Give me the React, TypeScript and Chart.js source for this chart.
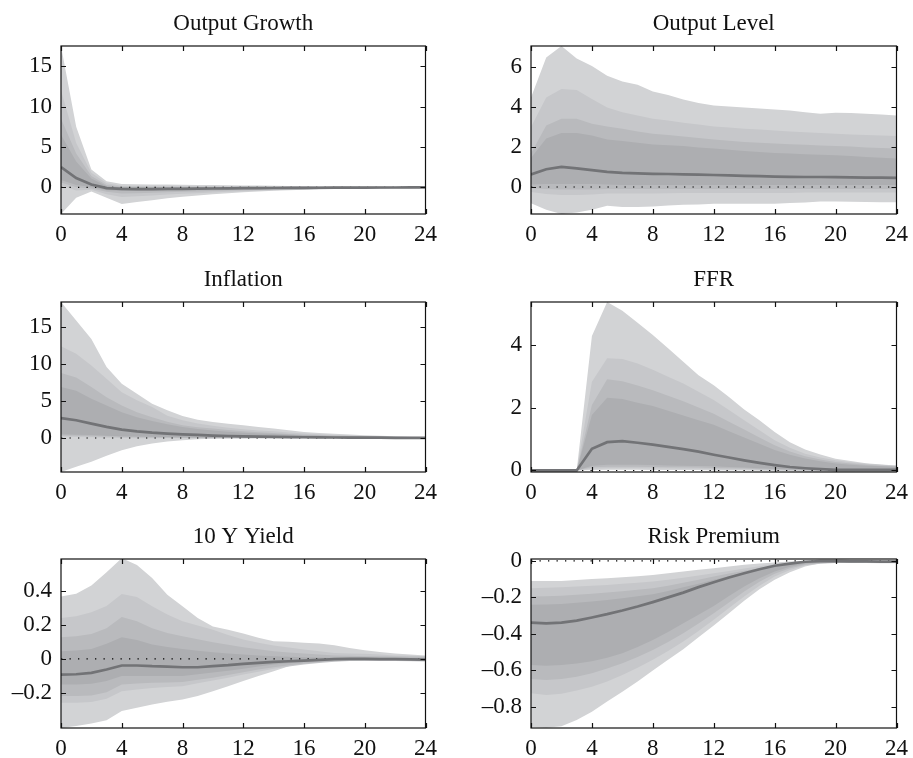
import React, { useEffect, useRef } from "react";
import { Chart, registerables } from "chart.js";

Chart.register(...registerables);

// ---------- DATA ----------
const HORIZON = [0, 1, 2, 3, 4, 5, 6, 7, 8, 9, 10, 11, 12, 13, 14, 15, 16, 17, 18, 19, 20, 21, 22, 23, 24];
const X_TICKS = [0, 4, 8, 12, 16, 20, 24];

// Output Growth
const OG_MEDIAN = [2.5, 1.15, 0.35, -0.1, -0.2, -0.22, -0.22, -0.2, -0.18, -0.16, -0.14, -0.12, -0.1, -0.09, -0.08, -0.07, -0.06, -0.05, -0.04, -0.03, -0.03, -0.02, -0.02, -0.01, -0.01];
const OG_U1 = [6.5, 3.2, 1.1, 0.15, -0.02, -0.05, -0.05, -0.05, -0.04, -0.04, -0.03, -0.03, -0.03, -0.02, -0.02, -0.02, -0.01, -0.01, -0.01, 0, 0, 0, 0, 0, 0];
const OG_U2 = [8.5, 4.2, 1.4, 0.3, 0.08, 0.06, 0.05, 0.05, 0.05, 0.05, 0.05, 0.04, 0.04, 0.04, 0.03, 0.03, 0.03, 0.03, 0.02, 0.02, 0.02, 0.02, 0.02, 0.01, 0.01];
const OG_U3 = [12, 5.5, 1.8, 0.5, 0.2, 0.2, 0.2, 0.19, 0.18, 0.17, 0.16, 0.15, 0.14, 0.12, 0.11, 0.1, 0.09, 0.08, 0.07, 0.06, 0.05, 0.05, 0.04, 0.04, 0.03];
const OG_U4 = [17.5, 7.5, 2.2, 0.75, 0.4, 0.38, 0.36, 0.34, 0.32, 0.3, 0.28, 0.26, 0.24, 0.22, 0.2, 0.18, 0.16, 0.14, 0.12, 0.11, 0.1, 0.09, 0.08, 0.07, 0.06];
const OG_L1 = [0.9, 0.3, 0.05, -0.35, -0.45, -0.45, -0.43, -0.4, -0.37, -0.34, -0.3, -0.27, -0.24, -0.21, -0.18, -0.16, -0.14, -0.12, -0.1, -0.09, -0.08, -0.07, -0.06, -0.05, -0.04];
const OG_L2 = [0.6, 0, -0.15, -0.55, -0.75, -0.72, -0.68, -0.62, -0.56, -0.5, -0.45, -0.4, -0.35, -0.3, -0.26, -0.23, -0.2, -0.17, -0.15, -0.13, -0.11, -0.1, -0.09, -0.08, -0.07];
const OG_L3 = [0.3, -0.4, -0.3, -0.85, -1.2, -1.1, -1.0, -0.9, -0.8, -0.72, -0.64, -0.56, -0.49, -0.42, -0.36, -0.31, -0.27, -0.23, -0.2, -0.17, -0.15, -0.13, -0.12, -0.1, -0.09];
const OG_L4 = [-3.3, -1.3, -0.5, -1.3, -2.05, -1.8, -1.6, -1.35, -1.15, -1.0, -0.85, -0.72, -0.6, -0.5, -0.42, -0.35, -0.29, -0.24, -0.2, -0.17, -0.15, -0.13, -0.11, -0.1, -0.09];

// Output Level
const OL_MEDIAN = [0.63, 0.89, 1.01, 0.93, 0.84, 0.76, 0.71, 0.68, 0.66, 0.65, 0.63, 0.62, 0.6, 0.58, 0.56, 0.54, 0.52, 0.51, 0.5, 0.5, 0.49, 0.48, 0.47, 0.47, 0.46];
const OL_U1 = [1.45, 2.42, 2.7, 2.7, 2.58, 2.37, 2.3, 2.21, 2.13, 2.09, 2.05, 1.98, 1.92, 1.86, 1.8, 1.75, 1.7, 1.67, 1.64, 1.61, 1.59, 1.55, 1.5, 1.46, 1.42];
const OL_U2 = [1.67, 3.08, 3.41, 3.41, 3.16, 3.03, 2.91, 2.78, 2.66, 2.6, 2.53, 2.45, 2.37, 2.31, 2.25, 2.21, 2.17, 2.14, 2.11, 2.08, 2.05, 2.02, 1.98, 1.95, 1.92];
const OL_U3 = [3.0, 4.48, 4.9, 4.85, 4.4, 3.98, 3.74, 3.57, 3.41, 3.33, 3.21, 3.12, 3.03, 2.97, 2.91, 2.87, 2.83, 2.78, 2.74, 2.7, 2.66, 2.63, 2.6, 2.57, 2.55];
const OL_U4 = [4.48, 6.47, 7.05, 6.43, 6.05, 5.56, 5.28, 5.11, 4.78, 4.6, 4.37, 4.2, 4.07, 4.02, 3.97, 3.92, 3.87, 3.82, 3.74, 3.66, 3.71, 3.7, 3.66, 3.62, 3.57];
const OL_L1 = [0.12, 0.15, 0.15, 0.15, 0.15, 0.12, 0.1, 0.1, 0.1, 0.1, 0.1, 0.1, 0.1, 0.1, 0.1, 0.1, 0.1, 0.1, 0.1, 0.1, 0.1, 0.1, 0.1, 0.1, 0.1];
const OL_L2 = [-0.05, -0.1, -0.12, -0.12, -0.12, -0.1, -0.1, -0.1, -0.1, -0.1, -0.1, -0.1, -0.1, -0.1, -0.1, -0.1, -0.1, -0.1, -0.1, -0.1, -0.1, -0.1, -0.1, -0.1, -0.1];
const OL_L3 = [-0.25, -0.35, -0.4, -0.4, -0.38, -0.33, -0.33, -0.33, -0.32, -0.31, -0.3, -0.3, -0.3, -0.3, -0.3, -0.3, -0.3, -0.3, -0.28, -0.27, -0.27, -0.27, -0.27, -0.27, -0.27];
const OL_L4 = [-0.81, -1.14, -1.35, -1.28, -1.14, -0.94, -1.0, -1.0, -0.97, -0.93, -0.89, -0.87, -0.84, -0.84, -0.84, -0.84, -0.84, -0.8, -0.77, -0.73, -0.73, -0.74, -0.75, -0.76, -0.76];

// Inflation
const IN_MEDIAN = [2.7, 2.4, 1.94, 1.5, 1.13, 0.9, 0.72, 0.59, 0.5, 0.41, 0.32, 0.27, 0.23, 0.19, 0.16, 0.13, 0.1, 0.08, 0.07, 0.06, 0.05, 0.04, 0.03, 0.03, 0.02];
const IN_U1 = [6.9, 6.4, 5.3, 4.4, 3.5, 2.8, 2.3, 1.85, 1.5, 1.22, 1.0, 0.85, 0.72, 0.62, 0.53, 0.44, 0.36, 0.3, 0.25, 0.21, 0.18, 0.15, 0.12, 0.1, 0.09];
const IN_U2 = [8.8, 8.2, 6.9, 5.5, 4.4, 3.5, 2.8, 2.2, 1.72, 1.45, 1.27, 1.08, 0.9, 0.78, 0.66, 0.55, 0.45, 0.38, 0.32, 0.27, 0.23, 0.18, 0.14, 0.11, 0.09];
const IN_U3 = [12.4, 11.4, 9.8, 8.0, 6.2, 5.1, 4.2, 3.0, 2.39, 1.95, 1.65, 1.4, 1.2, 1.03, 0.9, 0.75, 0.6, 0.5, 0.42, 0.33, 0.25, 0.2, 0.16, 0.13, 0.1];
const IN_U4 = [18.4, 15.9, 13.4, 9.6, 7.35, 6.0, 4.65, 3.74, 2.98, 2.48, 2.17, 1.94, 1.72, 1.49, 1.27, 1.04, 0.81, 0.68, 0.59, 0.48, 0.36, 0.3, 0.23, 0.18, 0.14];
const IN_L1 = [0.5, 0.45, 0.4, 0.32, 0.25, 0.2, 0.16, 0.13, 0.1, 0.08, 0.06, 0.05, 0.04, 0.03, 0.02, 0.02, 0.01, 0.01, 0.01, 0, 0, 0, 0, 0, 0];
const IN_L2 = [0.35, 0.3, 0.25, 0.2, 0.15, 0.1, 0.07, 0.05, 0.03, 0.02, 0.01, 0, 0, 0, 0, 0, 0, 0, 0, 0, 0, 0, 0, 0, 0];
const IN_L3 = [0.2, 0.15, 0.1, 0.05, 0, -0.03, -0.05, -0.05, -0.05, -0.04, -0.03, -0.03, -0.02, -0.02, -0.01, -0.01, -0.01, -0.01, -0.01, -0.01, -0.01, -0.01, -0.01, -0.01, -0.01];
const IN_L4 = [-4.6, -3.9, -3.2, -2.4, -1.66, -1.12, -0.76, -0.49, -0.31, -0.18, -0.1, -0.08, -0.06, -0.05, -0.04, -0.03, -0.03, -0.02, -0.02, -0.02, -0.01, -0.01, -0.01, -0.01, -0.01];

// FFR
const FF_MEDIAN = [0, 0, 0, 0, 0.69, 0.9, 0.93, 0.88, 0.82, 0.75, 0.68, 0.6, 0.5, 0.41, 0.32, 0.24, 0.17, 0.11, 0.07, 0.04, 0.02, 0.02, 0.02, 0.02, 0.02];
const FF_U1 = [0, 0, 0, 0, 1.76, 2.31, 2.27, 2.15, 2.05, 1.9, 1.75, 1.6, 1.45, 1.25, 1.05, 0.85, 0.65, 0.5, 0.38, 0.29, 0.22, 0.18, 0.15, 0.13, 0.11];
const FF_U2 = [0, 0, 0, 0, 2.08, 2.9, 2.84, 2.7, 2.55, 2.38, 2.2, 2.0, 1.8, 1.55, 1.3, 1.05, 0.8, 0.6, 0.45, 0.35, 0.27, 0.22, 0.18, 0.15, 0.13];
const FF_U3 = [0, 0, 0, 0, 2.82, 3.57, 3.55, 3.4, 3.2, 2.98, 2.77, 2.5, 2.24, 1.92, 1.6, 1.28, 0.96, 0.72, 0.53, 0.41, 0.32, 0.26, 0.21, 0.18, 0.15];
const FF_U4 = [0, 0, 0, 0, 4.28, 5.36, 5.08, 4.7, 4.31, 3.89, 3.46, 3.03, 2.71, 2.34, 1.94, 1.6, 1.22, 0.9, 0.67, 0.51, 0.37, 0.3, 0.23, 0.19, 0.16];
const FF_L1 = [0, 0, 0, 0, 0.15, 0.18, 0.18, 0.18, 0.17, 0.16, 0.15, 0.14, 0.13, 0.11, 0.09, 0.07, 0.05, 0.03, 0.02, 0.01, 0, 0, 0, 0, 0];
const FF_L2 = [0, 0, 0, 0, 0.1, 0.12, 0.12, 0.12, 0.11, 0.1, 0.1, 0.09, 0.08, 0.07, 0.06, 0.04, 0.03, 0.02, 0.01, 0, -0.01, -0.01, -0.01, -0.01, -0.01];
const FF_L3 = [0, 0, 0, 0, 0.05, 0.07, 0.07, 0.07, 0.06, 0.06, 0.05, 0.05, 0.04, 0.03, 0.03, 0.02, 0.01, 0, -0.01, -0.02, -0.02, -0.02, -0.02, -0.02, -0.02];
const FF_L4 = [0, 0, 0, 0, 0.01, 0.02, 0.02, 0.02, 0.01, 0.01, 0.01, 0.01, 0, 0, 0, -0.01, -0.02, -0.03, -0.04, -0.04, -0.05, -0.05, -0.04, -0.04, -0.04];

// 10 Y Yield
const TY_MEDIAN = [-0.092, -0.09, -0.082, -0.062, -0.039, -0.039, -0.043, -0.045, -0.049, -0.049, -0.043, -0.037, -0.029, -0.024, -0.018, -0.014, -0.01, -0.006, -0.002, 0, 0, -0.001, -0.002, -0.003, -0.004];
const TY_U1 = [0.045, 0.049, 0.058, 0.088, 0.127, 0.11, 0.084, 0.07, 0.058, 0.048, 0.039, 0.032, 0.025, 0.02, 0.016, 0.013, 0.01, 0.008, 0.007, 0.006, 0.006, 0.005, 0.005, 0.004, 0.004];
const TY_U2 = [0.127, 0.133, 0.146, 0.18, 0.245, 0.22, 0.18, 0.152, 0.133, 0.115, 0.097, 0.082, 0.068, 0.056, 0.045, 0.038, 0.031, 0.025, 0.02, 0.018, 0.016, 0.015, 0.014, 0.013, 0.012];
const TY_U3 = [0.24, 0.25, 0.273, 0.31, 0.38, 0.363, 0.308, 0.26, 0.22, 0.195, 0.17, 0.14, 0.113, 0.095, 0.078, 0.066, 0.055, 0.045, 0.035, 0.032, 0.03, 0.025, 0.02, 0.018, 0.016];
const TY_U4 = [0.366, 0.382, 0.43, 0.507, 0.59, 0.55, 0.474, 0.376, 0.308, 0.24, 0.19, 0.17, 0.148, 0.123, 0.103, 0.1, 0.094, 0.09, 0.08, 0.064, 0.05, 0.04, 0.031, 0.025, 0.02];
const TY_L1 = [-0.15, -0.15, -0.146, -0.13, -0.1, -0.1, -0.1, -0.1, -0.1, -0.09, -0.08, -0.069, -0.058, -0.045, -0.033, -0.025, -0.018, -0.012, -0.008, -0.007, -0.006, -0.006, -0.007, -0.007, -0.008];
const TY_L2 = [-0.218, -0.218, -0.214, -0.195, -0.15, -0.145, -0.14, -0.138, -0.136, -0.123, -0.11, -0.094, -0.078, -0.063, -0.049, -0.037, -0.027, -0.02, -0.014, -0.011, -0.01, -0.01, -0.01, -0.011, -0.012];
const TY_L3 = [-0.257, -0.257, -0.252, -0.234, -0.19, -0.18, -0.17, -0.165, -0.16, -0.143, -0.127, -0.11, -0.092, -0.075, -0.058, -0.045, -0.033, -0.024, -0.017, -0.013, -0.012, -0.012, -0.012, -0.013, -0.014];
const TY_L4 = [-0.405, -0.394, -0.378, -0.359, -0.306, -0.287, -0.267, -0.251, -0.238, -0.218, -0.19, -0.16, -0.13, -0.1, -0.072, -0.043, -0.023, -0.014, -0.008, -0.004, -0.004, -0.008, -0.012, -0.014, -0.016];

// Risk Premium
const RP_MEDIAN = [-0.338, -0.342, -0.338, -0.327, -0.31, -0.292, -0.272, -0.25, -0.226, -0.2, -0.174, -0.144, -0.117, -0.091, -0.068, -0.046, -0.027, -0.015, -0.005, -0.002, -0.002, -0.003, -0.003, -0.004, -0.004];
const RP_U1 = [-0.24, -0.239, -0.236, -0.23, -0.223, -0.214, -0.205, -0.194, -0.183, -0.165, -0.145, -0.125, -0.104, -0.085, -0.066, -0.048, -0.031, -0.019, -0.011, -0.008, -0.007, -0.006, -0.006, -0.006, -0.006];
const RP_U2 = [-0.195, -0.194, -0.191, -0.186, -0.18, -0.173, -0.166, -0.158, -0.15, -0.136, -0.12, -0.103, -0.086, -0.07, -0.054, -0.04, -0.026, -0.016, -0.009, -0.006, -0.005, -0.004, -0.004, -0.004, -0.004];
const RP_U3 = [-0.15, -0.148, -0.145, -0.141, -0.137, -0.132, -0.126, -0.12, -0.113, -0.103, -0.092, -0.08, -0.068, -0.055, -0.042, -0.03, -0.018, -0.01, -0.005, -0.003, -0.002, -0.002, -0.002, -0.002, -0.002];
const RP_U4 = [-0.11, -0.11, -0.11, -0.105, -0.1, -0.095, -0.09, -0.084, -0.077, -0.068, -0.058, -0.049, -0.04, -0.031, -0.022, -0.015, -0.009, -0.004, 0, 0.002, 0.002, 0.002, 0.002, 0.002, 0.002];
const RP_L1 = [-0.57, -0.574, -0.57, -0.562, -0.55, -0.53, -0.506, -0.472, -0.433, -0.39, -0.342, -0.295, -0.247, -0.193, -0.14, -0.095, -0.058, -0.033, -0.016, -0.01, -0.008, -0.008, -0.007, -0.007, -0.007];
const RP_L2 = [-0.647, -0.652, -0.647, -0.634, -0.616, -0.59, -0.56, -0.526, -0.488, -0.444, -0.396, -0.343, -0.287, -0.228, -0.168, -0.115, -0.071, -0.04, -0.022, -0.013, -0.01, -0.009, -0.009, -0.009, -0.009];
const RP_L3 = [-0.725, -0.734, -0.727, -0.71, -0.689, -0.66, -0.625, -0.585, -0.542, -0.494, -0.442, -0.384, -0.323, -0.258, -0.195, -0.136, -0.086, -0.05, -0.026, -0.016, -0.012, -0.011, -0.011, -0.011, -0.011];
const RP_L4 = [-0.908, -0.913, -0.905, -0.871, -0.826, -0.77, -0.716, -0.661, -0.6, -0.542, -0.484, -0.418, -0.354, -0.287, -0.219, -0.155, -0.104, -0.062, -0.031, -0.013, -0.008, -0.01, -0.012, -0.013, -0.013];

const TITLES = ["Output Growth", "Output Level", "Inflation", "FFR", "10 Y Yield", "Risk Premium"];
const Y_TICKS = [
  [0, 5, 10, 15],
  [0, 2, 4, 6],
  [0, 5, 10, 15],
  [0, 2, 4],
  [-0.2, 0, 0.2, 0.4],
  [-0.8, -0.6, -0.4, -0.2, 0],
];
const Y_RANGES = [
  [-3.3, 17.5],
  [-1.35, 7.05],
  [-4.6, 18.4],
  [-0.05, 5.36],
  [-0.405, 0.585],
  [-0.915, 0.01],
];

const SERIES = [
  { median: OG_MEDIAN, upper: [OG_U1, OG_U2, OG_U3, OG_U4], lower: [OG_L1, OG_L2, OG_L3, OG_L4] },
  { median: OL_MEDIAN, upper: [OL_U1, OL_U2, OL_U3, OL_U4], lower: [OL_L1, OL_L2, OL_L3, OL_L4] },
  { median: IN_MEDIAN, upper: [IN_U1, IN_U2, IN_U3, IN_U4], lower: [IN_L1, IN_L2, IN_L3, IN_L4] },
  { median: FF_MEDIAN, upper: [FF_U1, FF_U2, FF_U3, FF_U4], lower: [FF_L1, FF_L2, FF_L3, FF_L4] },
  { median: TY_MEDIAN, upper: [TY_U1, TY_U2, TY_U3, TY_U4], lower: [TY_L1, TY_L2, TY_L3, TY_L4] },
  { median: RP_MEDIAN, upper: [RP_U1, RP_U2, RP_U3, RP_U4], lower: [RP_L1, RP_L2, RP_L3, RP_L4] },
];

// ---------- STYLE / LAYOUT ----------
const BAND_COLORS = ["#adaeb1", "#b9babd", "#c6c7ca", "#d2d3d5"]; // inner -> outer
const MEDIAN_COLOR = "#727376";
const FONT_FAMILY = '"Liberation Serif", "Times New Roman", Times, serif';
const FONT_SIZE = 23;
// plot rectangles: [left, top, right, bottom]
const PLOT_RECTS = [
  [61, 46, 428, 214],
  [531, 46, 899, 214],
  [61, 302, 428, 472],
  [531, 302, 899, 472],
  [61, 559, 428, 728],
  [531, 559, 899, 728],
];
const PAD_LEFT = 61;
const PAD_TOP = 46;
const PAD_RIGHT = 16;
const PAD_BOTTOM = 32;

function fmtTick(v: number): string {
  if (Math.abs(v) < 1e-9) return "0";
  const s = String(parseFloat(Math.abs(v).toFixed(3)));
  return v < 0 ? "\u2013" + s : s;
}

const framePlugin = {
  id: "matlabFrame",
  afterDraw(chart: any, _args: any, opts: any) {
    const { ctx, chartArea } = chart;
    const { left, top, right, bottom } = chartArea;
    const xs = chart.scales.x;
    const ys = chart.scales.y;
    ctx.save();
    ctx.strokeStyle = "#111";
    ctx.lineWidth = 1.2;
    ctx.strokeRect(left, top, right - left, bottom - top);
    const tl = 5;
    ctx.beginPath();
    for (const v of X_TICKS) {
      const px = Math.round(xs.getPixelForValue(v)) + 0.5;
      ctx.moveTo(px, bottom);
      ctx.lineTo(px, bottom - tl);
      ctx.moveTo(px, top);
      ctx.lineTo(px, top + tl);
    }
    for (const v of opts.yTicks as number[]) {
      const py = Math.round(ys.getPixelForValue(v)) + 0.5;
      if (py < top - 1 || py > bottom + 1) continue;
      ctx.moveTo(left, py);
      ctx.lineTo(left + tl, py);
      ctx.moveTo(right, py);
      ctx.lineTo(right - tl, py);
    }
    ctx.stroke();
    // title
    ctx.fillStyle = "#111";
    ctx.font = `${FONT_SIZE}px ${FONT_FAMILY}`;
    ctx.textAlign = "center";
    ctx.textBaseline = "alphabetic";
    ctx.fillText(opts.title, (left + right) / 2, top - 16);
    ctx.restore();
  },
};

function Panel({ idx }: { idx: number }) {
  const ref = useRef<HTMLCanvasElement | null>(null);
  const [l, t, r, b] = PLOT_RECTS[idx];
  const width = r - l + PAD_LEFT + PAD_RIGHT;
  const height = b - t + PAD_TOP + PAD_BOTTOM;

  useEffect(() => {
    if (!ref.current) return;
    const s = SERIES[idx];
    const pts = (arr: number[]) => HORIZON.map((x, i) => ({ x, y: arr[i] }));
    const zero = HORIZON.map((x) => ({ x, y: 0 }));
    const datasets: any[] = [
      { data: pts(s.median), borderColor: MEDIAN_COLOR, borderWidth: 2.7, pointRadius: 0, fill: false, tension: 0 },
      { data: zero, borderColor: "#000", borderWidth: 1.1, borderDash: [1.3, 7.2], pointRadius: 0, fill: false },
    ];
    for (let k = 0; k < 4; k++) {
      datasets.push({
        data: pts(s.upper[k]),
        borderWidth: 0,
        borderColor: "rgba(0,0,0,0)",
        backgroundColor: BAND_COLORS[k],
        pointRadius: 0,
        fill: "+1",
        tension: 0,
      });
      datasets.push({
        data: pts(s.lower[k]),
        borderWidth: 0,
        borderColor: "rgba(0,0,0,0)",
        pointRadius: 0,
        fill: false,
        tension: 0,
      });
    }
    const yTicks = Y_TICKS[idx];
    const chart = new Chart(ref.current, {
      type: "line",
      data: { datasets },
      plugins: [framePlugin],
      options: {
        animation: false,
        responsive: false,
        devicePixelRatio: 1,
        layout: { padding: { left: 0, top: PAD_TOP, right: PAD_RIGHT, bottom: 0 } },
        plugins: {
          legend: { display: false },
          tooltip: { enabled: false },
          title: { display: false },
          matlabFrame: { yTicks, title: TITLES[idx] },
        } as any,
        scales: {
          x: {
            type: "linear",
            min: 0,
            max: 24,
            grid: { display: false, drawTicks: false },
            border: { display: false },
            afterBuildTicks: (sc: any) => {
              sc.ticks = X_TICKS.map((v) => ({ value: v }));
            },
            afterFit: (sc: any) => {
              sc.height = PAD_BOTTOM;
            },
            ticks: {
              autoSkip: false,
              maxRotation: 0,
              padding: 7,
              color: "#111",
              font: { family: FONT_FAMILY, size: FONT_SIZE },
              callback: (v: any) => fmtTick(Number(v)),
            },
          },
          y: {
            type: "linear",
            min: Y_RANGES[idx][0],
            max: Y_RANGES[idx][1],
            grid: { display: false, drawTicks: false },
            border: { display: false },
            afterBuildTicks: (sc: any) => {
              sc.ticks = yTicks.map((v) => ({ value: v }));
            },
            afterFit: (sc: any) => {
              sc.width = PAD_LEFT;
            },
            ticks: {
              autoSkip: false,
              padding: 9,
              color: "#111",
              font: { family: FONT_FAMILY, size: FONT_SIZE },
              callback: (v: any) => fmtTick(Number(v)),
            },
          },
        },
      } as any,
    });
    return () => chart.destroy();
  }, [idx]);

  return (
    <canvas
      ref={ref}
      width={width}
      height={height}
      style={{ position: "absolute", left: l - PAD_LEFT, top: t - PAD_TOP, width, height }}
    />
  );
}

export default function App() {
  return (
    <div style={{ position: "absolute", left: 0, top: 0, width: 913, height: 758, background: "#fff", overflow: "hidden" }}>
      {TITLES.map((_, i) => (
        <Panel key={i} idx={i} />
      ))}
    </div>
  );
}
